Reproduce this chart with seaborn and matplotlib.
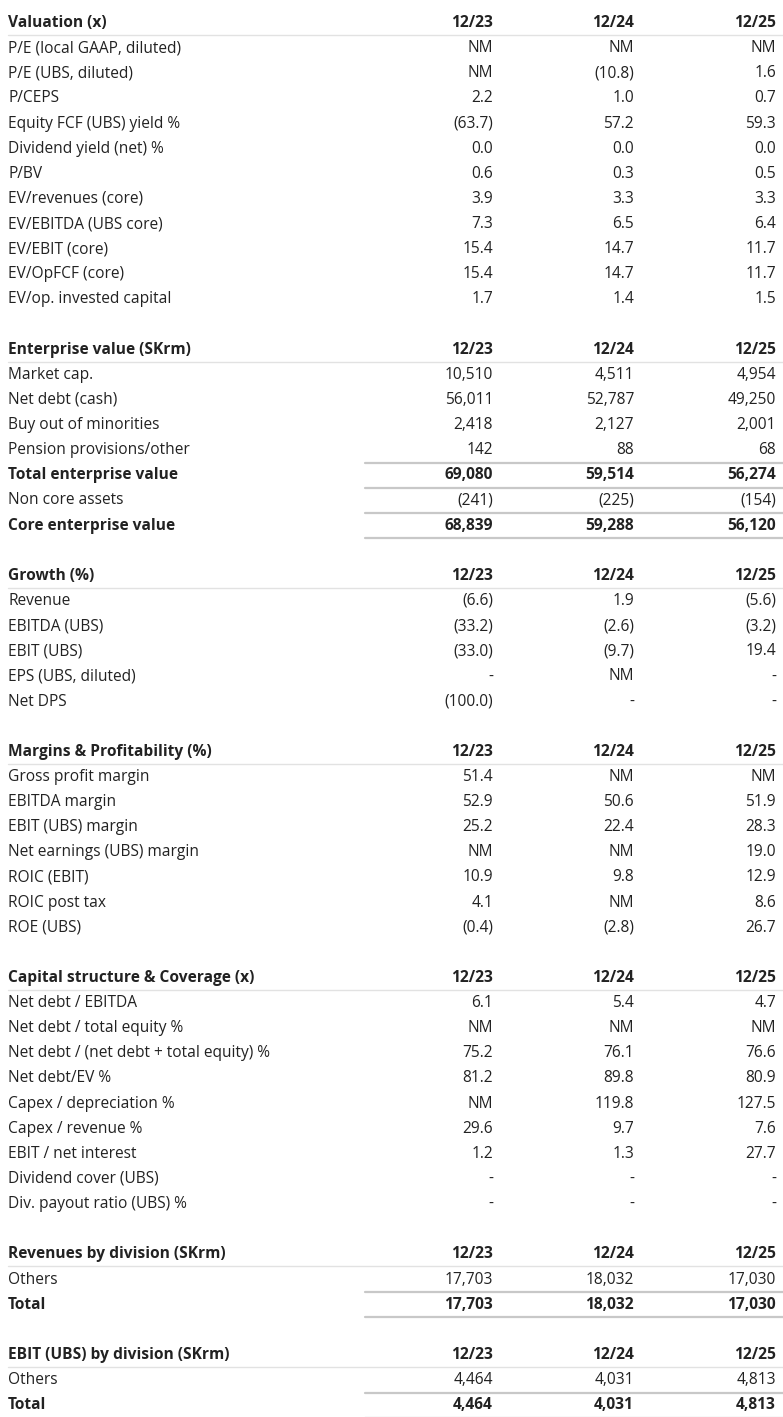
import matplotlib
matplotlib.use("Agg")
import matplotlib.pyplot as plt
import seaborn as sns

# Table content, one list per section: (label, [12/23, 12/24, 12/25], style)
# style: 'h' = section header, 'n' = normal, 't' = bold total row
years = ["12/23", "12/24", "12/25"]

valuation = [
    ("Valuation (x)", years, "h"),
    ("P/E (local GAAP, diluted)", ["NM", "NM", "NM"], "n"),
    ("P/E (UBS, diluted)", ["NM", "(10.8)", "1.6"], "n"),
    ("P/CEPS", ["2.2", "1.0", "0.7"], "n"),
    ("Equity FCF (UBS) yield %", ["(63.7)", "57.2", "59.3"], "n"),
    ("Dividend yield (net) %", ["0.0", "0.0", "0.0"], "n"),
    ("P/BV", ["0.6", "0.3", "0.5"], "n"),
    ("EV/revenues (core)", ["3.9", "3.3", "3.3"], "n"),
    ("EV/EBITDA (UBS core)", ["7.3", "6.5", "6.4"], "n"),
    ("EV/EBIT (core)", ["15.4", "14.7", "11.7"], "n"),
    ("EV/OpFCF (core)", ["15.4", "14.7", "11.7"], "n"),
    ("EV/op. invested capital", ["1.7", "1.4", "1.5"], "n"),
]
enterprise = [
    ("Enterprise value (SKrm)", years, "h"),
    ("Market cap.", ["10,510", "4,511", "4,954"], "n"),
    ("Net debt (cash)", ["56,011", "52,787", "49,250"], "n"),
    ("Buy out of minorities", ["2,418", "2,127", "2,001"], "n"),
    ("Pension provisions/other", ["142", "88", "68"], "n"),
    ("Total enterprise value", ["69,080", "59,514", "56,274"], "t"),
    ("Non core assets", ["(241)", "(225)", "(154)"], "n"),
    ("Core enterprise value", ["68,839", "59,288", "56,120"], "t"),
]
growth = [
    ("Growth (%)", years, "h"),
    ("Revenue", ["(6.6)", "1.9", "(5.6)"], "n"),
    ("EBITDA (UBS)", ["(33.2)", "(2.6)", "(3.2)"], "n"),
    ("EBIT (UBS)", ["(33.0)", "(9.7)", "19.4"], "n"),
    ("EPS (UBS, diluted)", ["-", "NM", "-"], "n"),
    ("Net DPS", ["(100.0)", "-", "-"], "n"),
]
margins = [
    ("Margins & Profitability (%)", years, "h"),
    ("Gross profit margin", ["51.4", "NM", "NM"], "n"),
    ("EBITDA margin", ["52.9", "50.6", "51.9"], "n"),
    ("EBIT (UBS) margin", ["25.2", "22.4", "28.3"], "n"),
    ("Net earnings (UBS) margin", ["NM", "NM", "19.0"], "n"),
    ("ROIC (EBIT)", ["10.9", "9.8", "12.9"], "n"),
    ("ROIC post tax", ["4.1", "NM", "8.6"], "n"),
    ("ROE (UBS)", ["(0.4)", "(2.8)", "26.7"], "n"),
]
capital = [
    ("Capital structure & Coverage (x)", years, "h"),
    ("Net debt / EBITDA", ["6.1", "5.4", "4.7"], "n"),
    ("Net debt / total equity %", ["NM", "NM", "NM"], "n"),
    ("Net debt / (net debt + total equity) %", ["75.2", "76.1", "76.6"], "n"),
    ("Net debt/EV %", ["81.2", "89.8", "80.9"], "n"),
    ("Capex / depreciation %", ["NM", "119.8", "127.5"], "n"),
    ("Capex / revenue %", ["29.6", "9.7", "7.6"], "n"),
    ("EBIT / net interest", ["1.2", "1.3", "27.7"], "n"),
    ("Dividend cover (UBS)", ["-", "-", "-"], "n"),
    ("Div. payout ratio (UBS) %", ["-", "-", "-"], "n"),
]
revenues = [
    ("Revenues by division (SKrm)", years, "h"),
    ("Others", ["17,703", "18,032", "17,030"], "n"),
    ("Total", ["17,703", "18,032", "17,030"], "t"),
]
ebit = [
    ("EBIT (UBS) by division (SKrm)", years, "h"),
    ("Others", ["4,464", "4,031", "4,813"], "n"),
    ("Total", ["4,464", "4,031", "4,813"], "t"),
]
sections = [valuation, enterprise, growth, margins, capital, revenues, ebit]

W, H = 783, 1417
sns.set_style("white")
plt.rcParams["font.family"] = ["Open Sans", "DejaVu Sans"]

fig = plt.figure(figsize=(W / 100, H / 100), dpi=100)
ax = fig.add_axes([0, 0, 1, 1])
ax.set_xlim(0, W)
ax.set_ylim(H, 0)
ax.axis("off")

TXT = "#222222"
col_x = [493, 634, 776]
y0, step = 23, 25.13
row = 0
for sec in sections:
    for label, vals, style in sec:
        y = y0 + row * step
        weight = "bold" if style in ("h", "t") else "normal"
        ax.text(8, y, label, ha="left", va="center", fontsize=11.2,
                fontweight=weight, color=TXT)
        for x, v in zip(col_x, vals):
            ax.text(x, y, v, ha="right", va="center", fontsize=11.2,
                    fontweight=weight, color=TXT)
        if style == "h":
            ax.plot([8, W], [y + 12, y + 12], color="#e2e2e2", lw=1)
        if style == "t":
            for yy in (y - 12.5, y + 12.5):
                ax.plot([365, W], [yy, yy], color="#c8c8c8", lw=1.6)
        row += 1
    row += 1  # blank spacer between sections

fig.savefig("out.png", dpi=100, facecolor="white")
